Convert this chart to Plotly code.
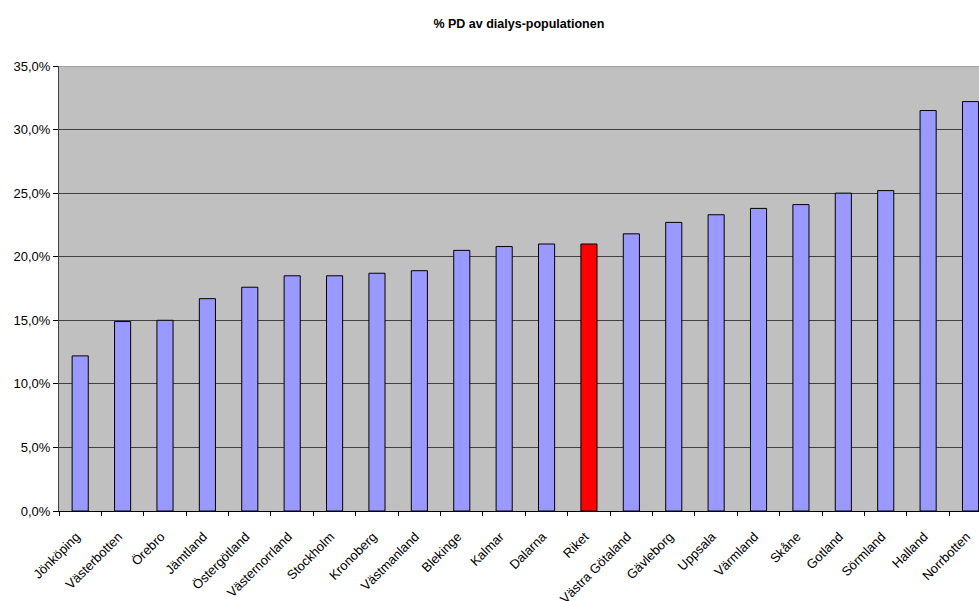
import plotly.graph_objects as go

# Andel patienter i peritonealdialys (PD) per län, i procent
regions = [
    "Jönköping", "Västerbotten", "Örebro", "Jämtland", "Östergötland",
    "Västernorrland", "Stockholm", "Kronoberg", "Västmanland", "Blekinge",
    "Kalmar", "Dalarna", "Riket", "Västra Götaland", "Gävleborg", "Uppsala",
    "Värmland", "Skåne", "Gotland", "Sörmland", "Halland", "Norrbotten",
]
pd_share = [
    12.2, 14.9, 15.0, 16.7, 17.6,
    18.5, 18.5, 18.7, 18.9, 20.5,
    20.8, 21.0, 21.0, 21.8, 22.7, 23.3,
    23.8, 24.1, 25.0, 25.2, 31.5, 32.2,
]
y_ticks = [0, 5, 10, 15, 20, 25, 30, 35]
y_tick_text = ["0,0%", "5,0%", "10,0%", "15,0%", "20,0%", "25,0%", "30,0%", "35,0%"]

# The national total is highlighted in red
bar_colors = ["#FF0000" if r == "Riket" else "#9999FF" for r in regions]

fig = go.Figure(
    go.Bar(
        x=regions,
        y=pd_share,
        width=0.38,
        marker=dict(color=bar_colors, line=dict(color="#000000", width=1)),
        hoverinfo="x+y",
    )
)

fig.update_layout(
    width=979,
    height=601,
    margin=dict(l=59, r=0, t=66, b=90),
    paper_bgcolor="#FFFFFF",
    plot_bgcolor="#C0C0C0",
    showlegend=False,
    font=dict(family="Liberation Sans, Arial, sans-serif", size=13, color="#000000"),
    title=dict(
        text="<b>% PD av dialys-populationen</b>",
        x=0.53,
        xanchor="center",
        y=0.96,
        yanchor="middle",
        font=dict(size=12.5, color="#000000"),
    ),
)

fig.update_xaxes(
    type="category",
    range=[-0.5, 21.2],
    automargin=False,
    tickangle=-45,
    tickson="boundaries",
    ticks="outside",
    ticklen=4,
    tickcolor="#000000",
    ticklabelstandoff=12,
    ticklabelshift=-4,
    showline=True,
    linecolor="#000000",
    linewidth=1,
    showgrid=False,
    tickfont=dict(size=13),
)

fig.update_yaxes(
    range=[0, 35],
    automargin=False,
    tickvals=y_ticks,
    ticktext=y_tick_text,
    ticks="outside",
    ticklen=5,
    tickcolor="#000000",
    showline=True,
    linecolor="#404040",
    linewidth=1,
    showgrid=True,
    gridcolor="#404040",
    gridwidth=1,
    zeroline=False,
    tickfont=dict(size=13),
)

# Upper frame of the plot area
fig.add_shape(
    type="line", xref="paper", yref="y",
    x0=0, x1=1, y0=35, y1=35,
    line=dict(color="#808080", width=1),
)

fig.write_html("out.html")
